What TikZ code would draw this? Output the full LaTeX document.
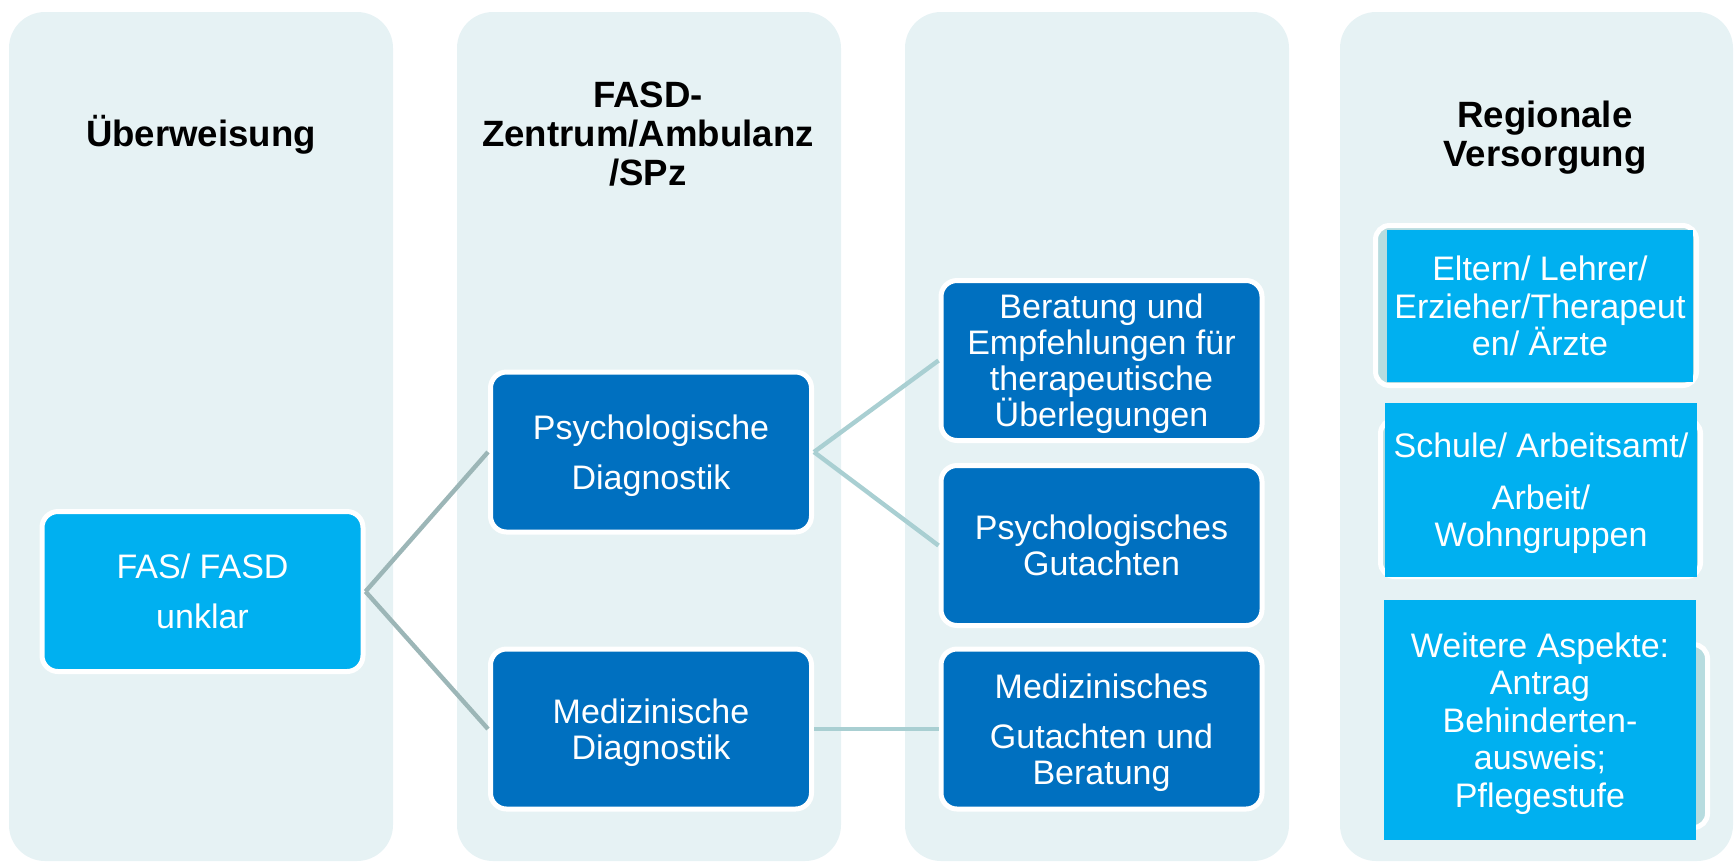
\documentclass[tikz,border=0pt]{standalone}
\usepackage{fontspec}
\setmainfont{Liberation Sans}

\definecolor{panelbg}{HTML}{E6F2F4}
\definecolor{cyanfill}{HTML}{00B0F0}
\definecolor{bluefill}{HTML}{0070C0}
\definecolor{linkone}{HTML}{9CB6B7}
\definecolor{linktwo}{HTML}{A9CFD2}
\definecolor{backfill}{HTML}{B7DCDF}

% invisible rules that fix the height/depth of the first and last lines
\newcommand\bstrut{\rule[-4pt]{0pt}{20.2pt}}
\newcommand\hstrut{\rule[-4.6pt]{0pt}{22.1pt}}

\begin{document}
\lineskiplimit=-50pt
\begin{tikzpicture}[x=0.5pt,y=-0.5pt,
  panel/.style={fill=panelbg, rounded corners=18pt},
  heading/.style={align=center, inner sep=0pt, text=black,
    font=\fontsize{18.3}{19.5}\selectfont\bfseries},
  boxbase/.style={draw=white, line width=2.5pt, rounded corners=8pt,
    minimum width=160.5pt, minimum height=80pt, inner sep=0pt,
    text=white, align=center,
    font=\fontsize{17}{18}\selectfont},
  lightbox/.style={boxbase, fill=cyanfill},
  darkbox/.style={boxbase, fill=bluefill},
  backshape/.style={fill=backfill, draw=white, line width=2.5pt, rounded corners=7pt},
  rbox/.style={fill=cyanfill, inner sep=0pt, outer sep=0pt, text=white, align=center,
    font=\fontsize{17}{18.75}\selectfont},
  linkA/.style={draw=linkone, line width=2.2pt},
  linkB/.style={draw=linktwo, line width=2.2pt}
]
\useasboundingbox (0,0) rectangle (1735,864);

% column panels
\fill[panel] (9,12) rectangle (393,861);
\fill[panel] (457,12) rectangle (841,861);
\fill[panel] (905,12) rectangle (1289,861);
\fill[panel] (1340,12) rectangle (1733,861);

% column headings
\node[heading] (h1) at (201,134) {\hstrut Überweisung};
\node[heading] (h2) at (648,133.5) {\hstrut FASD-\\\hstrut Zentrum/Ambulanz\\\hstrut /SPz};
\node[heading] (h4) at (1545,134) {\hstrut Regionale\\\hstrut Versorgung};

% diagnostic path
\node[lightbox] (fas) at (202.5,591.5) {\bstrut FAS/ FASD\\[7pt]\bstrut unklar};
\node[darkbox] (pd) at (651,452) {\bstrut Psychologische\\[7pt]\bstrut Diagnostik};
\node[darkbox] (md) at (651,729) {\bstrut Medizinische\\\bstrut Diagnostik};
\node[darkbox] (be) at (1101.5,360.5) {\bstrut Beratung und\\\bstrut Empfehlungen für\\\bstrut therapeutische\\\bstrut Überlegungen};
\node[darkbox] (pg) at (1101.5,545.5) {\bstrut Psychologisches\\\bstrut Gutachten};
\node[darkbox] (mg) at (1101.5,729) {\bstrut Medizinisches\\[7pt]\bstrut Gutachten und\\\bstrut Beratung};

% connectors
\draw[linkA] (fas.east) -- (pd.west);
\draw[linkA] (fas.east) -- (md.west);
\draw[linkB] (pd.east) -- (be.west);
\draw[linkB] (pd.east) -- (pg.west);
\draw[linkB] (md.east) -- (mg.west);

% regional care: rounded frames behind the boxes
\draw[backshape] (1375.5,225.5) rectangle (1696.5,385.5);
\draw[backshape] (1380.5,419.5) rectangle (1700.5,576.5);
\draw[backshape] (1390,644.5) rectangle (1707.5,827.5);

\node[rbox, minimum width=153pt, minimum height=76pt] (r1) at (1540,306)
  {\bstrut Eltern/ Lehrer/\\\bstrut Erzieher/Therapeut\\\bstrut en/ Ärzte};
\node[rbox, minimum width=156pt, minimum height=87pt] (r2) at (1541,490)
  {\bstrut Schule/ Arbeitsamt/\\[7pt]\bstrut Arbeit/\\\bstrut Wohngruppen};
\node[rbox, minimum width=156pt, minimum height=120pt] (r3) at (1540,720)
  {\bstrut Weitere Aspekte:\\\bstrut Antrag\\\bstrut Behinderten-\\\bstrut ausweis;\\\bstrut Pflegestufe};
\end{tikzpicture}
\end{document}
